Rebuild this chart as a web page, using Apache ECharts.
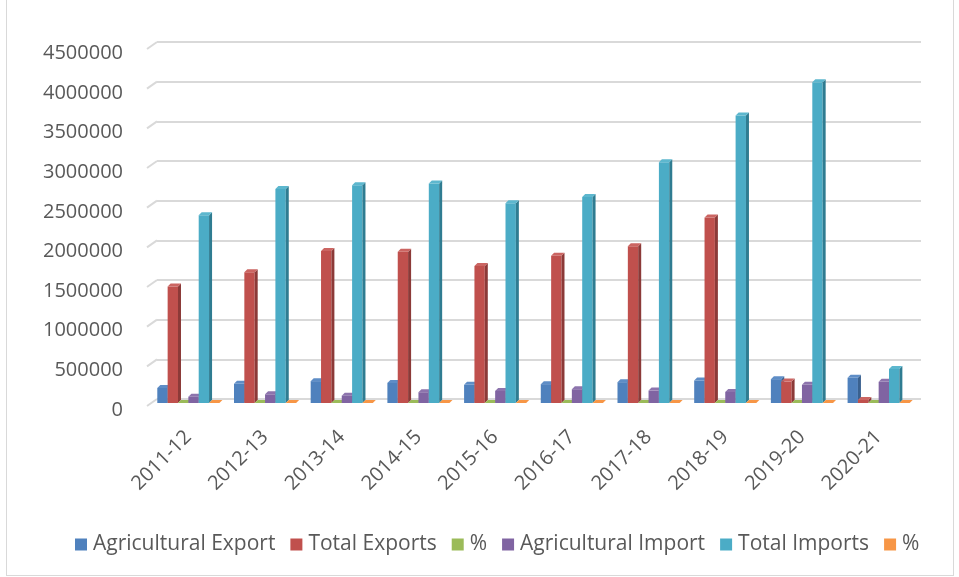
<!DOCTYPE html>
<html>
<head>
<meta charset="utf-8">
<script src="https://cdn.jsdelivr.net/npm/echarts@6/dist/echarts.min.js"></script>
<style>
html,body{margin:0;padding:0;background:#fff;}
#frame{position:absolute;left:6px;top:-1px;width:946px;height:575px;border:1px solid #d9d9d9;}
#c{position:absolute;left:0;top:0;width:959px;height:577px;}
</style>
</head>
<body>
<div id="frame"></div>
<div id="c"></div>
<script>
const categories = ['2011-12','2012-13','2013-14','2014-15','2015-16','2016-17','2017-18','2018-19','2019-20','2020-21'];
const agriExport   = [190000, 242000, 276000, 254000, 229000, 238000, 263000, 284000, 301000, 318000];
const totalExports = [1470000, 1650000, 1920000, 1910000, 1730000, 1860000, 1980000, 2340000, 271000, 38000];
const exportPct    = [12.9, 14.7, 14.4, 13.3, 13.2, 12.8, 13.3, 12.1, 11.1, 10.5];
const agriImport   = [80000, 110000, 93000, 136000, 153000, 174000, 157000, 140000, 229000, 267000];
const totalImports = [2370000, 2700000, 2750000, 2770000, 2520000, 2600000, 3040000, 3630000, 4050000, 429000];
const importPct    = [3.4, 4.1, 3.4, 4.9, 6.1, 6.7, 5.2, 3.9, 5.7, 6.2];
const yTickLabels  = ['0','500000','1000000','1500000','2000000','2500000','3000000','3500000','4000000','4500000'];
const yTicks = {min: 0, max: 4500000, interval: 500000};

const seriesDefs = [
  {name: 'Agricultural Export', data: agriExport,   color: '#4F81BD', side: '#3A618F', top: '#5E8DC6'},
  {name: 'Total Exports',       data: totalExports, color: '#C0504D', side: '#8C3A38', top: '#CB6562'},
  {name: '%',                   data: exportPct,    color: '#9BBB59', side: '#738B42', top: '#9BBB59'},
  {name: 'Agricultural Import', data: agriImport,   color: '#8064A2', side: '#5E4A78', top: '#8D74AD'},
  {name: 'Total Imports',       data: totalImports, color: '#4BACC6', side: '#2F7C91', top: '#5DB7CE'},
  {name: '% ',                  data: importPct,    color: '#F79646', side: '#B86F33', top: '#F79646'}
];
const N = seriesDefs.length;
const GROUP_FRAC = 0.81;
const DEPTH = 3;

function makeRender(idx, def) {
  return function (params, api) {
    const cat = api.value(0), val = api.value(1);
    const base = api.coord([cat, 0]);
    const top = api.coord([cat, val]);
    const band = api.size([1, 0])[0];
    const slot = band * GROUP_FRAC / N;
    const x0 = base[0] - band * GROUP_FRAC / 2 + idx * slot;
    const w = slot;
    const yb = base[1], yt = Math.min(top[1], yb);
    const d = DEPTH;
    const children = [];
    if (yb - yt > 0.5) {
      children.push({type: 'rect', shape: {x: x0, y: yt, width: w, height: yb - yt}, style: {fill: def.color}});
      children.push({type: 'polygon', shape: {points: [[x0 + w, yt], [x0 + w + d, yt - d], [x0 + w + d, yb - d], [x0 + w, yb]]}, style: {fill: def.side}});
    }
    children.push({type: 'polygon', shape: {points: [[x0, yt], [x0 + w, yt], [x0 + w + d, yt - d], [x0 + d, yt - d]]}, style: {fill: def.top}});
    return {type: 'group', children: children};
  };
}

// wall gridline slants at the left edge of the floor
function slantRender(params, api) {
  const cs = params.coordSys;
  const p = api.coord([0, api.value(1)]);
  return {type: 'line', shape: {x1: cs.x - 10, y1: p[1] + 7, x2: cs.x, y2: p[1]},
          style: {stroke: '#d9d9d9', lineWidth: 2}};
}

const chart = echarts.init(document.getElementById('c'));
const FONT = '"Open Sans", Lato, sans-serif';
chart.setOption({
  animation: false,
  textStyle: {fontFamily: FONT},
  grid: [
    {left: 150, right: 42, top: 46.5, bottom: 174},
    {left: 157, right: 38, top: 42, bottom: 178}
  ],
  legend: {
    bottom: 17, left: 70, itemWidth: 12, itemHeight: 12, itemGap: 15, icon: 'rect',
    textStyle: {fontSize: 21, color: '#595959', fontFamily: FONT, padding: [0, 0, 0, 1]},
    data: seriesDefs.map((d) => ({name: d.name, itemStyle: {color: d.color}}))
  },
  xAxis: [
    {
      type: 'category', data: categories, gridIndex: 0,
      axisLine: {show: false}, axisTick: {show: false},
      axisLabel: {rotate: 45, fontSize: 20, color: '#595959', margin: 31, interval: 0}
    },
    {type: 'category', data: categories, gridIndex: 1, show: false}
  ],
  yAxis: [
    {
      type: 'value', gridIndex: 0, min: yTicks.min, max: yTicks.max, interval: yTicks.interval,
      axisLine: {show: false}, axisTick: {show: false},
      axisLabel: {fontSize: 20, color: '#595959', margin: 27, verticalAlign: 'top', lineHeight: 20,
                  padding: [-3, 0, 0, 0],
                  formatter: (v) => yTickLabels[Math.round(v / yTicks.interval)]},
      splitLine: {show: false}
    },
    {
      type: 'value', gridIndex: 1, min: yTicks.min, max: yTicks.max, interval: yTicks.interval,
      axisLine: {show: false}, axisTick: {show: false}, axisLabel: {show: false},
      splitLine: {lineStyle: {color: '#d9d9d9', width: 2}}
    }
  ],
  series: [
    {
      type: 'custom', name: 'wallSlants', xAxisIndex: 1, yAxisIndex: 1, silent: true,
      encode: {x: 0, y: 1},
      data: yTickLabels.map((t) => [0, Number(t)]),
      renderItem: slantRender, z: 1
    }
  ].concat(seriesDefs.map((def, i) => ({
    type: 'custom', name: def.name, xAxisIndex: 0, yAxisIndex: 0,
    itemStyle: {color: def.color},
    encode: {x: 0, y: 1},
    data: def.data.map((v, k) => [k, v]),
    renderItem: makeRender(i, def), z: 3
  })))
});
</script>
</body>
</html>
